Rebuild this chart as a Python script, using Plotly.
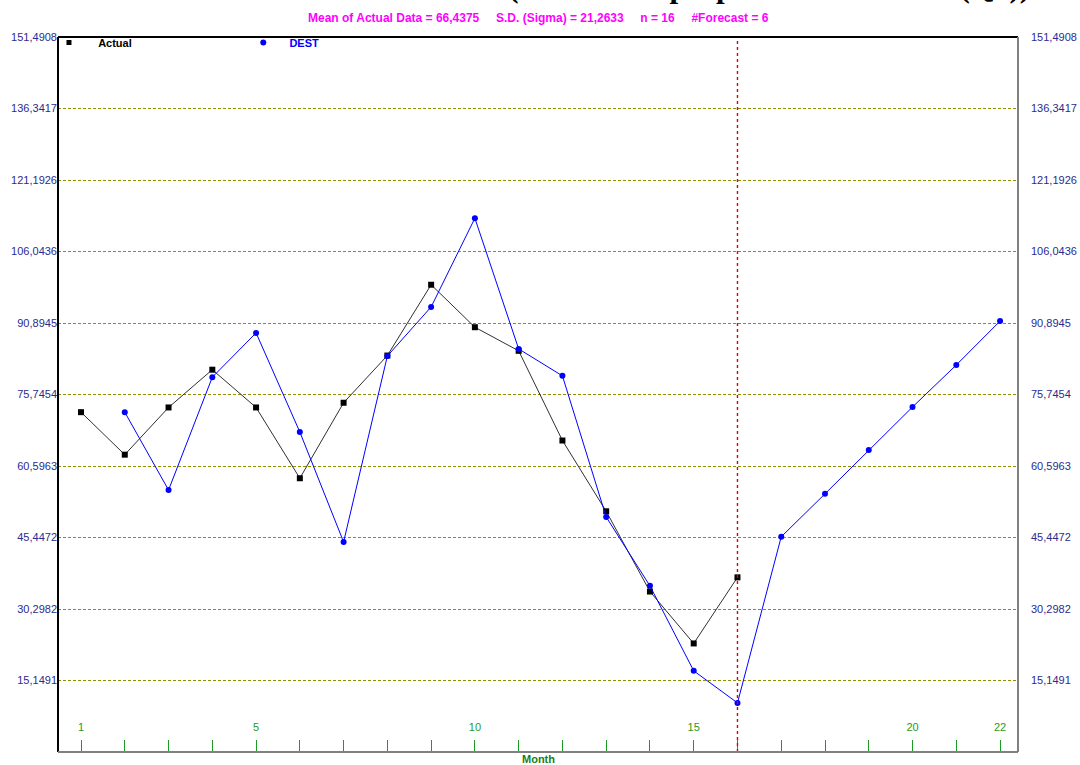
import plotly.graph_objects as go

# Observed monthly values (months 1-16)
months_actual = list(range(1, 17))
actual = [72, 63, 73, 81, 73, 58, 74, 84, 99, 90, 85, 66, 51, 34, 23, 37]

# DEST fitted values (months 2-16) and forecast (months 17-22)
months_dest = list(range(2, 23))
dest = [72.0, 55.5, 79.4, 88.8, 67.8, 44.5, 83.9, 94.3, 113.1, 85.4, 79.7,
        49.8, 35.2, 17.2, 10.4,
        45.6, 54.7, 64.0, 73.1, 82.0, 91.3]

Y_MAX = 151.4908
N_TICKS = 10
x_labels = {1: "1", 5: "5", 10: "10", 15: "15", 20: "20", 22: "22"}

title_text = "Table 4: Forecast Result for DEST (Number of people between 15-64 (Q1))"
stats_text = ("Mean of Actual Data = 66,4375     S.D. (Sigma) = 21,2633     "
              "n = 16     #Forecast = 6")

y_tickvals = [Y_MAX * i / N_TICKS for i in range(N_TICKS + 1)]
y_ticktext = ["0" if v == 0 else f"{v:.4f}".replace(".", ",") for v in y_tickvals]
x_tickvals = list(range(1, 23))
x_ticktext = [x_labels.get(m, "") for m in x_tickvals]

NAVY = "#2b2b8f"
GREEN = "#1f9a27"
OLIVE = "#8f8f00"
BLUE = "#0000ff"
NBSP = "\u00a0"

fig = go.Figure()

fig.add_trace(go.Scatter(
    x=months_actual, y=actual, mode="lines+markers", name="Actual",
    line=dict(color="#303030", width=1),
    marker=dict(symbol="square", size=6, color="black"),
    showlegend=False))
fig.add_trace(go.Scatter(
    x=months_dest, y=dest, mode="lines+markers", name="DEST",
    line=dict(color=BLUE, width=1),
    marker=dict(symbol="circle", size=6, color=BLUE),
    showlegend=False))

# legend entries (marker only), each in its own legend to colour the text
fig.add_trace(go.Scatter(
    x=[None], y=[None], mode="markers", name=NBSP * 3 + "Actual",
    marker=dict(symbol="square", size=5, color="black"), legend="legend"))
fig.add_trace(go.Scatter(
    x=[None], y=[None], mode="markers", name=NBSP * 2 + "DEST",
    marker=dict(symbol="circle", size=6, color=BLUE), legend="legend2"))

# right-hand copy of the value axis
fig.add_trace(go.Scatter(x=[None], y=[None], yaxis="y2", showlegend=False))

n_actual = len(actual)
fig.add_shape(type="line", xref="x", yref="paper", x0=n_actual, x1=n_actual,
              y0=0, y1=1, line=dict(color="#e00000", width=1.4, dash="3px,3px"))

# chart frame: dark top/left, grey bottom/right
fig.add_shape(type="line", xref="paper", yref="paper", x0=0, x1=1, y0=1, y1=1,
              line=dict(color="black", width=2))
fig.add_shape(type="line", xref="paper", yref="paper", x0=0, x1=0, y0=0, y1=1,
              line=dict(color="black", width=2))
fig.add_shape(type="line", xref="paper", yref="paper", x0=0, x1=1, y0=0, y1=0,
              line=dict(color="#808080", width=2))
fig.add_shape(type="line", xref="paper", yref="paper", x0=1, x1=1, y0=0, y1=1,
              line=dict(color="#808080", width=2))

fig.add_annotation(text=title_text, xref="paper", yref="paper", x=0.5, y=1,
                   yanchor="bottom", yshift=31, showarrow=False,
                   font=dict(family="Liberation Serif", size=31, color="black",
                             weight="bold"))
fig.add_annotation(text=stats_text, xref="paper", yref="paper", x=0.5, y=1,
                   yanchor="bottom", yshift=10, showarrow=False,
                   font=dict(family="Liberation Sans", size=12, color="#ff00ff",
                             weight="bold"))
fig.add_annotation(text="Month", xref="paper", yref="paper", x=0.5, y=0,
                   yanchor="top", yshift=1, showarrow=False,
                   font=dict(family="Liberation Sans", size=11, color="#15801b",
                             weight="bold"))

fig.update_layout(
    width=1080, height=765,
    margin=dict(l=58, r=62, t=37, b=13, autoexpand=False),
    paper_bgcolor="white", plot_bgcolor="white",
    xaxis=dict(range=[0.474, 22.41], tickvals=x_tickvals, ticktext=x_ticktext,
               ticks="inside", ticklen=12, tickcolor=GREEN, tickwidth=1,
               ticklabelposition="inside", ticklabelstandoff=6, automargin=False,
               tickfont=dict(family="Liberation Sans", size=11, color=GREEN),
               showgrid=False, zeroline=False, showline=False),
    yaxis=dict(range=[0, Y_MAX], tickvals=y_tickvals, ticktext=y_ticktext,
               showgrid=True, gridcolor=OLIVE, griddash="3px,2px", gridwidth=1,
               automargin=False,
               tickfont=dict(family="Liberation Sans", size=11, color=NAVY),
               ticks="", zeroline=False, showline=False),
    yaxis2=dict(range=[0, Y_MAX], tickvals=y_tickvals, ticktext=y_ticktext,
                overlaying="y", side="right", showgrid=False, automargin=False,
                tickfont=dict(family="Liberation Sans", size=11, color=NAVY),
                ticks="", zeroline=False, showline=False, ticklabelstandoff=12),
    legend=dict(x=-0.0094, y=1.0126, xanchor="left", yanchor="top",
                orientation="h", bgcolor="rgba(0,0,0,0)",
                font=dict(family="Liberation Sans", size=11, color="black",
                          weight="bold")),
    legend2=dict(x=0.193, y=1.0126, xanchor="left", yanchor="top",
                 orientation="h", bgcolor="rgba(0,0,0,0)",
                 font=dict(family="Liberation Sans", size=11, color=BLUE,
                           weight="bold")),
)

fig.write_html("out.html")
